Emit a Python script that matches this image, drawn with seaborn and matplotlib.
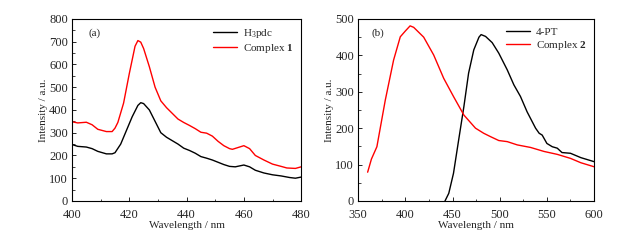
import numpy as np
import pandas as pd
import matplotlib
matplotlib.use('Agg')
import matplotlib.pyplot as plt
from matplotlib.ticker import AutoMinorLocator
import seaborn as sns

# Panel (a): H3pdc and Complex 1
wl_h3pdc = [400, 402, 405, 407, 409, 412, 414, 415, 417, 419, 421, 423, 424, 425, 427, 429, 431, 433, 435,
            437, 439, 441, 443, 445, 447, 449, 451, 453, 455, 457, 460, 462, 464, 467, 470, 473, 476, 478, 480]
int_h3pdc = [248, 240, 237, 230, 218, 207, 207, 212, 250, 310, 370, 420, 432, 428, 400, 350, 300, 280, 265,
             250, 232, 222, 210, 195, 188, 180, 170, 160, 152, 150, 158, 150, 135, 123, 115, 110, 103, 100, 105]

wl_c1 = [400, 402, 405, 407, 409, 412, 414, 415, 416, 418, 420, 422, 423, 424, 425, 427, 429, 431, 433, 435,
         437, 439, 441, 443, 445, 447, 449, 451, 453, 455, 456, 458, 460, 462, 464, 467, 470, 473, 475, 478, 480]
int_c1 = [348, 343, 346, 335, 315, 305, 305, 320, 345, 430, 560, 680, 705, 698, 670, 590, 500, 440, 410, 385,
          360, 345, 332, 318, 302, 298, 285, 262, 243, 230, 227, 235, 243, 230, 200, 180, 162, 152, 145, 143, 150]

# Panel (b): 4-PT and Complex 2
wl_pt = [442, 446, 451, 456.5, 462, 467, 472.5, 478, 480.3, 485, 492, 499, 508, 515, 522, 529, 538, 541.8,
         545, 550, 555.7, 561, 566, 575, 586, 600]
int_pt = [0, 21, 76, 168, 259, 351, 415, 450, 457, 452, 435, 406, 360, 319, 287, 245, 200, 186,
          181, 158, 149, 145, 133, 131, 119, 108]

wl_c2 = [360, 364, 369.8, 378.7, 387.5, 394.6, 400, 405, 408.8, 419.4, 430, 440.6, 451, 462, 474.3, 483,
         490, 499, 508, 518.6, 532.7, 547, 561, 575, 586, 600]
int_c2 = [79, 115, 149, 277, 387, 451, 467, 481, 477, 450, 401, 337, 287, 236, 200, 186,
          177, 166, 163, 154, 147, 136, 128, 117, 105, 94]

sns.set_style('ticks')
plt.rcParams['font.family'] = ['Liberation Serif', 'DejaVu Serif']
plt.rcParams['mathtext.fontset'] = 'custom'
plt.rcParams['mathtext.rm'] = 'Liberation Serif'
plt.rcParams['mathtext.bf'] = 'Liberation Serif:bold'
plt.rcParams['xtick.direction'] = 'in'
plt.rcParams['ytick.direction'] = 'in'
plt.rcParams['font.size'] = 8

fig = plt.figure(figsize=(6.34, 2.43), dpi=100)
ax1 = fig.add_axes([0.1136, 0.173, 0.3614, 0.749])
ax2 = fig.add_axes([0.565, 0.173, 0.372, 0.749])

df_a1 = pd.DataFrame({'wl': wl_h3pdc, 'I': int_h3pdc})
df_a2 = pd.DataFrame({'wl': wl_c1, 'I': int_c1})
sns.lineplot(data=df_a1, x='wl', y='I', ax=ax1, color='black', lw=1, label='H$_3$pdc')
sns.lineplot(data=df_a2, x='wl', y='I', ax=ax1, color='red', lw=1, label='Complex $\\mathbf{1}$')
ax1.set_xlim(400, 480)
ax1.set_ylim(0, 800)
ax1.set_xticks([400, 420, 440, 460, 480])
ax1.set_yticks(np.arange(0, 801, 100))
ax1.text(0.07, 0.92, '(a)', transform=ax1.transAxes, va='center', fontsize=8)

df_b1 = pd.DataFrame({'wl': wl_pt, 'I': int_pt})
df_b2 = pd.DataFrame({'wl': wl_c2, 'I': int_c2})
sns.lineplot(data=df_b1, x='wl', y='I', ax=ax2, color='black', lw=1, label='4-PT')
sns.lineplot(data=df_b2, x='wl', y='I', ax=ax2, color='red', lw=1, label='Complex $\\mathbf{2}$')
ax2.set_xlim(350, 600)
ax2.set_ylim(0, 500)
ax2.set_xticks([350, 400, 450, 500, 550, 600])
ax2.set_yticks(np.arange(0, 501, 100))
ax2.text(0.058, 0.92, '(b)', transform=ax2.transAxes, va='center', fontsize=8)

for ax in (ax1, ax2):
    ax.set_xlabel('Wavelength / nm', fontsize=8, labelpad=0)
    ax.set_ylabel('Intensity / a.u.', fontsize=8, labelpad=1)
    ax.xaxis.set_minor_locator(AutoMinorLocator(2))
    ax.yaxis.set_minor_locator(AutoMinorLocator(2))
    ax.tick_params(which='major', length=3, width=0.7, labelsize=9)
    ax.tick_params(axis='x', which='major', pad=6)
    ax.tick_params(axis='y', which='major', pad=3)
    ax.tick_params(which='minor', length=1.8, width=0.6)
    for s in ax.spines.values():
        s.set_linewidth(0.8)
        s.set_color('black')
    ax.legend(loc='upper right', frameon=False, fontsize=8, handlelength=2.2,
              borderaxespad=0.3, labelspacing=0.2, handletextpad=0.5)

fig.savefig('out.png', dpi=100)
